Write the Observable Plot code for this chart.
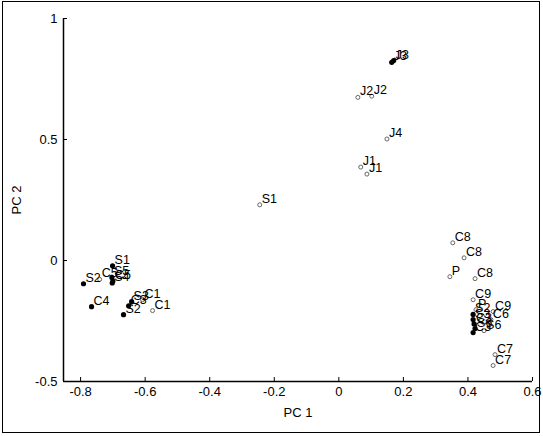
<!DOCTYPE html>
<html><head><meta charset="utf-8">
<script src="https://cdn.jsdelivr.net/npm/d3@7"></script>
<script src="https://cdn.jsdelivr.net/npm/@observablehq/plot@0.6"></script>
<style>
body{margin:0;background:#fff;}
#wrap{position:relative;width:543px;height:436px;}
#border{position:absolute;left:2px;top:1px;width:536px;height:430px;border:1.5px solid #000;pointer-events:none;}
</style></head><body><div id="wrap"><div id="border"></div></div>
<script>
const labels = ["S1","S2","C5","S5","C5","S4","C4","S2","S3","C3","C1","C1",
  "S1",
  "J3","J3","J2","J2","J4","J1","J1",
  "C8","C8","P","C8","C9","P","C9","C6","S2","S3","C3","S6","C3","S6","C7","C7"];
const pc1 = [-0.701,-0.791,-0.741,-0.703,-0.700,-0.702,-0.766,-0.667,-0.642,-0.651,-0.608,-0.577,
  -0.245,
  0.164,0.170,0.059,0.102,0.149,0.068,0.087,
  0.353,0.388,0.344,0.422,0.416,0.425,0.478,0.471,0.416,0.416,0.419,0.422,0.416,0.450,0.484,0.478];
const pc2 = [-0.022,-0.096,-0.078,-0.070,-0.085,-0.093,-0.191,-0.224,-0.170,-0.187,-0.162,-0.207,
  0.230,
  0.819,0.826,0.674,0.679,0.502,0.386,0.357,
  0.073,0.011,-0.067,-0.075,-0.162,-0.203,-0.211,-0.244,-0.223,-0.244,-0.262,-0.281,-0.298,-0.290,-0.389,-0.434];
const filled = [1,1,0,1,1,1,1,1,1,1,0,0,
  0,
  1,1,0,0,0,0,0,
  0,0,0,0,0,0,0,0,1,1,1,1,1,0,0,0];
const xTicks = [-0.8,-0.6,-0.4,-0.2,0,0.2,0.4,0.6];
const yTicks = [-0.5,0,0.5,1];
const xDomain = [-0.853,0.6];
const yDomain = [-0.5,1];

const data = labels.map((l,i)=>({label:l,x:pc1[i],y:pc2[i],f:filled[i]}));
const chart = Plot.plot({
  width:543, height:436, marginLeft:63, marginRight:11, marginTop:18, marginBottom:55,
  style:{fontFamily:"'Liberation Sans', Arial, sans-serif", fontSize:"12px", background:"transparent", color:"#000"},
  x:{domain:xDomain},
  y:{domain:yDomain},
  marks:[
    Plot.axisX({ticks:xTicks, tickFormat:d=>String(d), tickSize:0, tickPadding:5, label:"PC 1", labelAnchor:"center", labelArrow:"none", labelOffset:35, fontSize:13}),
    Plot.axisY({ticks:yTicks, tickFormat:d=>String(d), tickSize:0, tickPadding:6, label:"PC 2", labelAnchor:"center", labelArrow:"none", labelOffset:52, fontSize:13}),
    Plot.ruleX(xTicks, {y1:yDomain[0], y2:yDomain[0], insetTop:-4, stroke:"#000", strokeWidth:1}),
    Plot.ruleY(yTicks, {x1:xDomain[0], x2:xDomain[0], insetRight:-4, stroke:"#000", strokeWidth:1}),
    Plot.ruleX([xDomain[0]], {stroke:"#000", strokeWidth:1.5}),
    Plot.ruleY([yDomain[0]], {stroke:"#000", strokeWidth:1.5}),
    Plot.dot(data.filter(d=>!d.f), {x:"x", y:"y", r:2, stroke:"#666", strokeWidth:1, fill:"white"}),
    Plot.dot(data.filter(d=>d.f), {x:"x", y:"y", r:2.6, fill:"#000"}),
    Plot.text(data, {x:"x", y:"y", text:"label", textAnchor:"start", dx:2, dy:-6, fontSize:12.5, fill:"#000"})
  ]
});
document.getElementById("wrap").prepend(chart);
</script></body></html>
